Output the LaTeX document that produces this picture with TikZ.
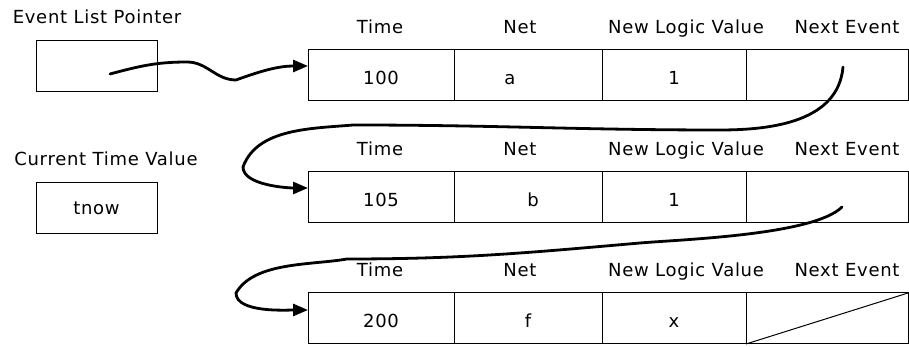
\documentclass[tikz,border=0pt]{standalone}
\usepackage{fontspec}
\setmainfont{DejaVu Sans}[LetterSpace=4]
\usetikzlibrary{calc,arrows.meta,positioning}

\begin{document}
\begin{tikzpicture}[x=1pt,y=1pt,font=\fontsize{18pt}{22pt}\selectfont,
  box/.style={draw,line width=1pt,minimum width=121pt,minimum height=51pt,inner sep=0pt,outer sep=0pt,text height=12pt,text depth=0pt},
  cell/.style={draw,line width=1pt,minimum height=51pt,inner sep=0pt,outer sep=0pt,anchor=north west,text height=19pt,text depth=0pt},
  head/.style={inner sep=0pt,text height=12pt,text depth=0pt},
  link/.style={line width=2.8pt,line cap=round,-{Triangle[length=15pt,width=12pt]}}]

\useasboundingbox (0,0) rectangle (909,347);

%Row corners
\def\xa{308}
\def\ya{297}
\def\yb{175}
\def\yc{54}

%Pointer and time boxes
\node[head] (ptrtext) at (97,329) {Event List Pointer};
\node[box] (ptr) at (96.5,280.5) {};
\node[head] (nowtext) at (106,187) {Current Time Value};
\node[box] (tnow) at (96.5,138.5) {tnow};

%First event
\node[head] (time1h) at (380,\ya+22) {Time};
\node[head] (net1h) at (520,\ya+22) {Net};
\node[head] (logic1h) at (686,\ya+22) {New Logic Value};
\node[head] (next1h) at (847,\ya+22) {Next Event};
\node[cell,minimum width=146pt] (time1) at (\xa,\ya) {100};
\node[cell,minimum width=148pt] (net1) at (time1.north east) {\hspace*{-36pt}a};
\node[cell,minimum width=144pt] (logic1) at (net1.north east) {1};
\node[cell,minimum width=162pt] (next1) at (logic1.north east) {};

%Second event
\node[head] (time2h) at (380,\yb+22) {Time};
\node[head] (net2h) at (520,\yb+22) {Net};
\node[head] (logic2h) at (686,\yb+22) {New Logic Value};
\node[head] (next2h) at (847,\yb+22) {Next Event};
\node[cell,minimum width=146pt] (time2) at (\xa,\yb) {105};
\node[cell,minimum width=148pt] (net2) at (time2.north east) {\hspace*{10pt}b};
\node[cell,minimum width=144pt] (logic2) at (net2.north east) {1};
\node[cell,minimum width=162pt] (next2) at (logic2.north east) {};

%Third event
\node[head] (time3h) at (380,\yc+22) {Time};
\node[head] (net3h) at (520,\yc+22) {Net};
\node[head] (logic3h) at (686,\yc+22) {New Logic Value};
\node[head] (next3h) at (847,\yc+22) {Next Event};
\node[cell,minimum width=146pt] (time3) at (\xa,\yc) {200};
\node[cell,minimum width=148pt] (net3) at (time3.north east) {f};
\node[cell,minimum width=144pt] (logic3) at (net3.north east) {x};
\node[cell,minimum width=162pt] (next3) at (logic3.north east) {};
\draw[line width=1pt] (next3.south west) -- (next3.north east);

%Linking the events
\draw[link] ($(ptr.center)+(13.5,-7.5)$) to[out=15,in=180] (187,285) to[out=0,in=180] (236,267) to[out=20,in=180] ([yshift=9.5pt]time1.west);
\draw[link] ($(next1.center)+(16,8.5)$) to[out=-95,in=0] (720,217) to[out=180,in=0] (353,222) to[out=185,in=70,looseness=0.9] (243,180) to[out=-90,in=180,looseness=0.7] ([yshift=9.5pt]time2.west);
\draw[link] ($(next2.center)+(15,-9.5)$) to[out=-135,in=5,looseness=0.5] (640,104) to[out=185,in=0] (347,88) to[out=190,in=60,looseness=0.8] (236,54) to[out=-90,in=180,looseness=0.7] ([yshift=8.5pt]time3.west);

\end{tikzpicture}
\end{document}
